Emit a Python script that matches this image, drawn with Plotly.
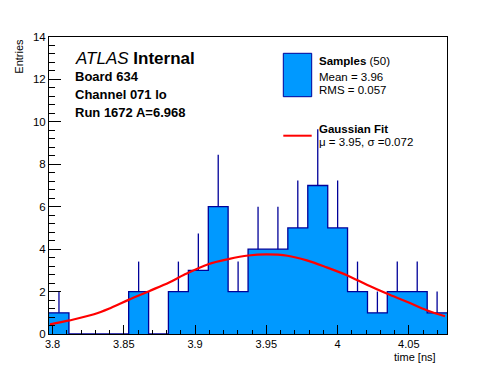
import numpy as np
import plotly.graph_objects as go

# ---------------- data ----------------
bin_edges = [3.7975, 3.8115, 3.8255, 3.8394, 3.8534, 3.8674, 3.8813, 3.8953, 3.9093,
             3.9232, 3.9372, 3.9512, 3.9651, 3.9791, 3.9931, 4.0070, 4.0210, 4.0349,
             4.0489, 4.0629, 4.0768]
counts = [1, 0, 0, 0, 2, 0, 2, 3, 6, 2, 4, 4, 5, 7, 5, 2, 1, 2, 2, 1]

fit_x = [3.7982, 3.8118, 3.8291, 3.8408, 3.8537, 3.8677, 3.8818, 3.8923, 3.9093, 3.9234,
         3.9374, 3.9503, 3.9648, 3.9784, 3.9924, 4.0069, 4.0209, 4.0345, 4.0486, 4.0626, 4.0754]
fit_y = [0.45, 0.64, 0.93, 1.23, 1.62, 2.02, 2.43, 2.79, 3.29, 3.53,
         3.70, 3.75, 3.69, 3.47, 3.14, 2.76, 2.31, 1.91, 1.52, 1.12, 0.84]

x_tickvals = [3.8, 3.85, 3.9, 3.95, 4.0, 4.05]
x_ticktext = ["3.8", "3.85", "3.9", "3.95", "4", "4.05"]
y_tickvals = [0, 2, 4, 6, 8, 10, 12, 14]
y_ticktext = ["0", "2", "4", "6", "8", "10", "12", "14"]

# ---------------- layout geometry ----------------
W, H = 496, 372
ML, MR, MT, MB = 49, 49, 37, 38
PW, PH = W - ML - MR, H - MT - MB

def px(x):
    return (x - ML) / PW

def py(y):
    return (H - MB - y) / PH

FILL = "#0099ff"
EDGE = "#000099"
FONT = "Liberation Sans, Arial, Helvetica, sans-serif"

centers = [(a + b) / 2 for a, b in zip(bin_edges[:-1], bin_edges[1:])]
errs = [float(np.sqrt(c)) for c in counts]

fig = go.Figure()

# filled histogram with step outline
fig.add_trace(go.Scatter(
    x=bin_edges, y=counts + [counts[-1]], mode="lines", line_shape="hv",
    fill="tozeroy", fillcolor=FILL, line=dict(color=EDGE, width=1.3),
    hoverinfo="skip", showlegend=False))

# upper error bars
fig.add_trace(go.Scatter(
    x=centers, y=counts, mode="markers", marker=dict(size=0.1, opacity=0),
    error_y=dict(type="data", symmetric=False, array=errs, arrayminus=[0] * len(errs),
                 width=0, color=EDGE, thickness=1.3),
    hoverinfo="skip", showlegend=False))

# gaussian fit
fig.add_trace(go.Scatter(
    x=fit_x, y=fit_y, mode="lines", line=dict(color="#ff0000", width=2.2, shape="spline"),
    hoverinfo="skip", showlegend=False))

axis_common = dict(showgrid=False, zeroline=False, showline=True, linecolor="black",
                   linewidth=1, mirror=True, ticks="inside", tickcolor="black")

fig.update_xaxes(range=[bin_edges[0], bin_edges[-1]], tickvals=x_tickvals, ticktext=x_ticktext,
                 ticklen=9, tickwidth=1, ticklabelstandoff=0,
                 tickfont=dict(family=FONT, size=11, color="black"),
                 minor=dict(ticks="inside", ticklen=4.5, tick0=3.8, dtick=0.01, tickcolor="black"),
                 **axis_common)
fig.update_yaxes(range=[0, 14], tickvals=y_tickvals, ticktext=y_ticktext,
                 ticklen=12, tickwidth=1,
                 tickfont=dict(family=FONT, size=11.5, color="black"),
                 minor=dict(ticks="inside", ticklen=6, tick0=0, dtick=0.4, tickcolor="black"),
                 **axis_common)

shapes = [
    dict(type="rect", xref="paper", yref="paper", x0=px(283.3), x1=px(311.7),
         y0=py(96.7), y1=py(53.3), fillcolor=FILL, line=dict(color=EDGE, width=1)),
    dict(type="line", xref="paper", yref="paper", x0=px(283.3), x1=px(311.7),
         y0=py(135.7), y1=py(135.7), line=dict(color="#ff0000", width=2)),
]

def ann(text, x, y, size, xanchor="left", angle=0):
    return dict(text=text, xref="paper", yref="paper", x=px(x), y=py(y), xanchor=xanchor,
                yanchor="middle", showarrow=False, textangle=angle,
                font=dict(family=FONT, size=size, color="black"))

annotations = [
    ann("<i>ATLAS</i> <b>Internal</b>", 73, 58.4, 17),
    ann("<b>Board 634</b>", 73, 76.5, 13),
    ann("<b>Channel 071 lo</b>", 73, 94.7, 13),
    ann("<b>Run 1672 A=6.968</b>", 73, 112.8, 13),
    ann("<b>Samples</b> (50)", 317, 61, 11.5),
    ann("Mean = 3.96", 317, 76.7, 11.5),
    ann("RMS = 0.057", 317, 90, 11.5),
    ann("<b>Gaussian Fit</b>", 317, 129, 11.5),
    ann("\u03bc = 3.95, \u03c3 =0.072", 317, 141.5, 11.5),
    ann("time [ns]", 438, 357, 11, xanchor="right"),
    dict(text="Entries", xref="paper", yref="paper", x=px(19.5), y=py(36.7),
         xanchor="center", yanchor="top", showarrow=False, textangle=-90,
         font=dict(family=FONT, size=11, color="black")),
]

fig.update_layout(width=W, height=H, margin=dict(l=ML, r=MR, t=MT, b=MB),
                  paper_bgcolor="white", plot_bgcolor="white",
                  shapes=shapes, annotations=annotations, showlegend=False)

fig.write_html("out.html", config={"displayModeBar": False},
               post_script="document.body.style.margin='0';document.body.style.padding='0';")
